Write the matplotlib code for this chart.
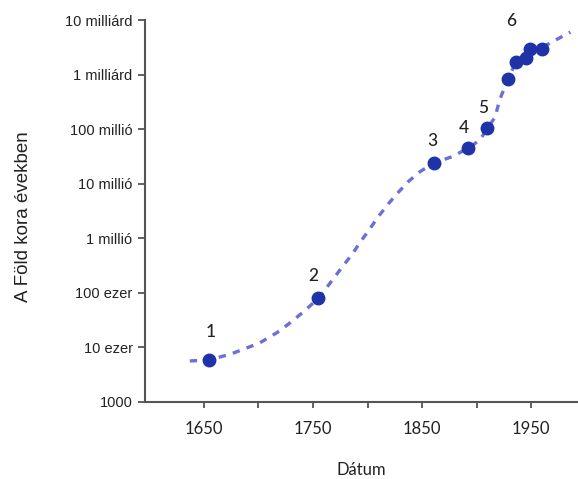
import numpy as np
import matplotlib
matplotlib.use("Agg")
import matplotlib.pyplot as plt

# dashed trend curve (year, log10 of age in years)
curve_year = [1637, 1655, 1675, 1701, 1717, 1727, 1740, 1755, 1768, 1777,
              1786, 1793, 1802, 1810, 1819, 1829, 1838, 1848, 1861, 1878,
              1892, 1903, 1910, 1917, 1921, 1929, 1936, 1945, 1949, 1960, 1986]
curve_log = [3.75, 3.77, 3.88, 4.08, 4.27, 4.42, 4.63, 4.90, 5.24, 5.48,
             5.71, 5.92, 6.17, 6.40, 6.63, 6.86, 7.05, 7.22, 7.38, 7.50,
             7.65, 7.80, 8.02, 8.22, 8.53, 8.93, 9.23, 9.30, 9.48, 9.50, 9.78]

# estimates (dots)
est_year = [1655, 1755, 1861, 1892, 1910, 1929, 1936, 1945, 1949, 1960]
est_age = [5.9e3, 8e4, 2.4e7, 4.5e7, 1.05e8, 8.5e8, 1.7e9, 2e9, 3e9, 3e9]

# numbered labels
lab_text = ["1", "2", "3", "4", "5", "6"]
lab_year = [1656, 1750, 1859, 1888, 1906, 1932]
lab_age = [1.9e4, 2.0e5, 6.0e7, 1.05e8, 2.4e8, 9.5e9]

ytick_vals = [1e3, 1e4, 1e5, 1e6, 1e7, 1e8, 1e9, 1e10]
ytick_labels = ["1000", "10 ezer", "100 ezer", "1 millió", "10 millió",
                "100 millió", "1 milliárd", "10 milliárd"]
xtick_vals = [1650, 1700, 1750, 1800, 1850, 1900, 1950]
xtick_labels = ["1650", "", "1750", "", "1850", "", "1950"]

fig = plt.figure(figsize=(5.78, 4.79), dpi=100)
ax = fig.add_axes([0.251, 0.161, 0.749, 0.797])

line_col = "#6c6fd6"
dot_col = "#1f33a8"
txt_col = "#222222"

ax.plot(curve_year, 10 ** np.array(curve_log), color=line_col, lw=2.4,
        dashes=(2.2, 2.2), solid_capstyle="butt", zorder=2)
ax.plot(est_year, est_age, "o", color=dot_col, ms=9, zorder=3)

for t, x, y in zip(lab_text, lab_year, lab_age):
    ax.text(x, y, t, ha="center", va="center", fontsize=12.5,
            family="Lato", weight="medium", color=txt_col)

ax.set_yscale("log")
ax.set_xlim(1596, 1993)
ax.set_ylim(1e3, 1e10)
ax.set_yticks(ytick_vals)
ax.set_yticklabels(ytick_labels, family="Liberation Sans", fontsize=10.5,
                   color=txt_col)
ax.minorticks_off()
ax.set_xticks(xtick_vals)
ax.set_xticklabels(xtick_labels, family="Lato", fontsize=12, color=txt_col)

ax.tick_params(axis="y", direction="out", length=5, width=1.3, colors="#555555",
               labelcolor=txt_col, pad=4)
ax.tick_params(axis="x", direction="out", length=4, width=1.3, colors="#555555",
               labelcolor=txt_col, pad=10)

for s in ["top", "right"]:
    ax.spines[s].set_visible(False)
for s in ["left", "bottom"]:
    ax.spines[s].set_color("#555555")
    ax.spines[s].set_linewidth(1.5)

ax.set_ylabel("A Föld kora években", family="Liberation Sans", fontsize=13.5,
              color=txt_col)
ax.yaxis.set_label_coords(-0.262, 0.484)
ax.set_xlabel("Dátum", family="Lato", fontsize=12, color=txt_col, labelpad=18)

fig.savefig("out.png", dpi=100)
